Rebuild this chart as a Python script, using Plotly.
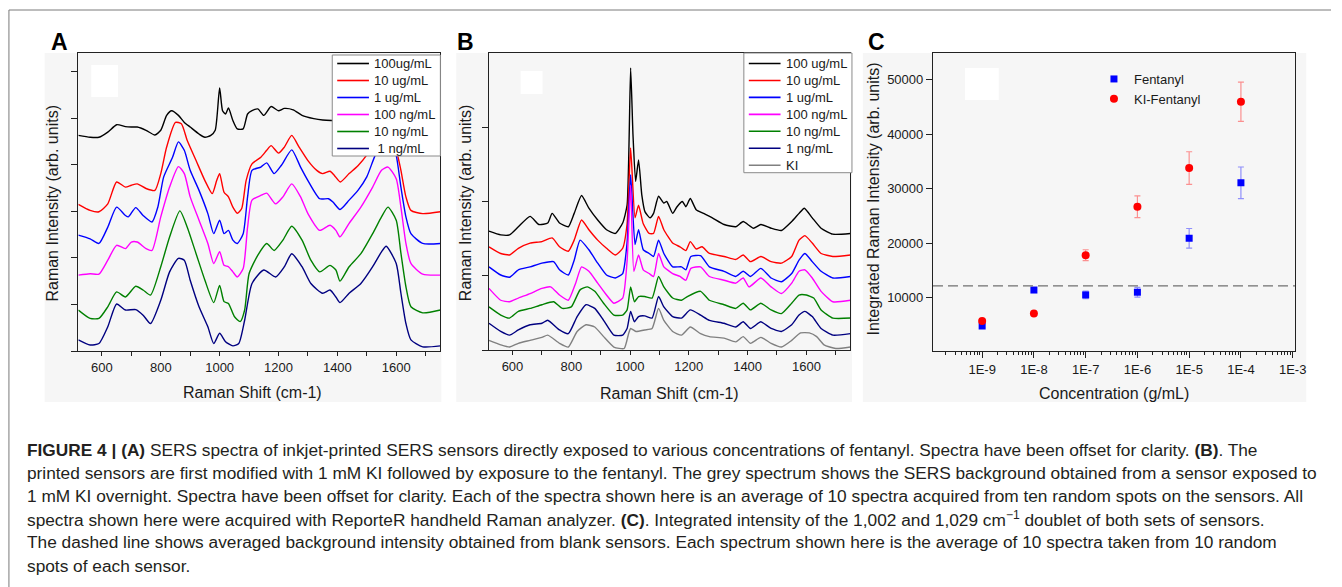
import plotly.graph_objects as go

# ---------------- data ----------------
# Panel A: SERS spectra, direct fentanyl exposure (offset, arb. units)
A_LABELS = ["100ug/mL", "10 ug/mL", "1 ug/mL", "100 ng/mL", "10 ng/mL", "\u00a01 ng/mL"]
A_100UG_X = [520,560,590,620,650,680,700,720,750,780,800,820,837,860,880,900,930,950,970,985,
             1000,1010,1020,1030,1045,1060,1080,1095,1110,1130,1150,1175,1200,1220,1250,1280,1320,1350,1380,1400,
             1450,1500,1550,1590,1630,1680,1750]
A_100UG_Y = [4.63,4.59,4.59,4.70,4.86,4.82,4.81,4.81,4.74,4.64,4.74,5.06,5.16,5.06,4.91,4.81,4.66,4.59,4.63,4.74,
             5.65,5.16,5.09,5.22,4.95,4.77,4.77,5.09,5.16,5.20,5.06,5.25,5.16,5.21,5.18,5.06,4.99,4.96,4.95,4.95,
             4.97,5.0,5.05,5.12,5.0,4.95,4.95]
A_10UG_X = [520,560,590,620,650,680,700,720,750,780,800,820,850,870,890,920,950,975,990,1000,
            1015,1030,1045,1060,1075,1090,1110,1140,1160,1175,1200,1220,1245,1270,1300,1330,1350,1375,1390,1410,
            1440,1470,1499,1530,1560,1585,1605,1616,1633,1650,1690,1750]
A_10UG_Y = [3.15,3.02,2.99,3.16,3.63,3.52,3.56,3.59,3.49,3.45,3.81,4.38,4.91,4.88,4.52,4.09,3.66,3.38,3.66,3.81,
            3.41,3.31,3.09,2.96,3.06,3.66,4.02,4.16,4.31,4.41,4.25,4.38,4.63,4.38,4.09,3.88,3.81,3.86,3.77,3.63,
            3.81,3.98,4.2,4.55,4.8,4.75,4.2,3.88,3.31,3.02,2.95,2.99]
A_1UG_X = [520,560,590,620,650,680,690,715,740,770,790,810,840,860,880,900,930,960,980,1000,
           1015,1030,1045,1060,1080,1095,1110,1140,1160,1185,1210,1245,1275,1300,1340,1370,1385,1409,1440,1470,
           1500,1527,1555,1580,1600,1616,1633,1650,1690,1750]
A_1UG_Y = [2.49,2.41,2.31,2.66,3.09,2.91,2.88,3.08,2.91,2.77,3.09,3.74,4.16,4.49,4.31,3.88,3.45,2.95,2.52,2.81,
           2.52,2.59,2.38,2.31,2.52,3.31,3.88,3.95,4.04,3.81,3.99,4.32,3.95,3.66,3.27,3.27,3.2,3.04,3.24,3.45,
           3.74,4.18,4.5,4.55,4.2,3.52,2.88,2.52,2.31,2.31]
A_100NG_X = [520,560,590,620,650,680,700,720,750,770,800,830,860,880,900,930,960,980,1000,1015,
             1030,1045,1060,1080,1095,1110,1140,1160,1190,1215,1245,1275,1300,1340,1375,1395,1409,1440,1480,1520,
             1550,1572,1600,1616,1633,1650,1690,1750]
A_100NG_Y = [1.63,1.66,1.65,1.95,2.27,2.2,2.34,2.34,2.2,2.16,2.88,3.52,3.96,3.81,3.31,2.81,2.31,1.88,2.13,1.84,
             1.81,1.7,1.59,1.77,2.66,3.24,3.34,3.39,3.16,3.31,3.59,3.31,2.95,2.59,2.7,2.59,2.45,2.74,3.09,3.52,
             3.88,3.95,3.70,3.09,2.31,1.88,1.65,1.63]
A_10NG_X = [520,560,590,620,650,680,715,740,765,800,830,865,890,920,950,980,1000,1015,1030,1050,
            1070,1085,1100,1130,1160,1185,1215,1245,1280,1310,1340,1375,1395,1409,1440,1480,1520,1550,1572,1600,
            1616,1633,1650,1690,1750]
A_10NG_Y = [0.88,0.7,0.7,0.95,1.27,1.16,1.39,1.31,1.2,1.81,2.45,3.01,2.66,2.09,1.52,1.04,1.41,1.06,1.02,0.74,
            0.63,0.88,1.66,2.06,2.31,2.16,2.38,2.68,2.38,1.95,1.7,1.84,1.74,1.5,1.81,2.09,2.52,2.88,3.09,2.81,
            2.10,1.38,0.95,0.82,0.88]
A_1NG_X = [520,560,590,620,650,680,715,740,765,800,830,860,880,900,930,960,980,1000,1020,1045,
           1065,1085,1110,1150,1190,1220,1245,1280,1310,1350,1375,1395,1409,1440,1480,1520,1550,1566,1600,1616,
           1633,1650,1690,1750]
A_1NG_Y = [0.24,0.13,0.16,0.52,1.01,0.88,0.89,0.77,0.59,1.09,1.7,1.99,1.95,1.52,0.95,0.52,0.16,0.38,0.2,0.11,
           0.16,0.66,1.45,1.74,1.59,1.81,2.09,1.81,1.45,1.24,1.31,1.16,1.04,1.24,1.45,1.81,2.13,2.25,1.88,1.24,
           0.59,0.24,0.09,0.11]

# Panel B: KI-modified sensors (offset, arb. units)
B_LABELS = ["100 ug/mL", "10 ug/mL", "1 ug/mL", "100 ng/mL", "10 ng/mL", "1 ng/mL", "KI"]
B_100UG_X = [520,560,590,620,660,690,720,735,760,790,810,835,860,890,920,950,975,990,1002,1010,
             1019,1029,1040,1051,1068,1080,1097,1115,1125,1145,1160,1178,1190,1205,1225,1250,1280,1320,1360,1385,
             1420,1445,1480,1515,1550,1575,1593,1620,1650,1690,1750]
B_100UG_Y = [1.60,1.55,1.55,1.66,1.80,1.69,1.71,1.84,1.71,1.66,1.84,2.08,1.91,1.75,1.62,1.57,1.71,1.95,3.80,2.90,
             2.27,2.56,2.09,1.86,1.78,1.84,2.07,1.98,2.0,1.84,1.93,2.0,1.93,2.04,1.89,1.84,1.78,1.69,1.66,1.73,
             1.64,1.69,1.64,1.61,1.73,1.84,1.91,1.78,1.64,1.56,1.57]
B_10UG_X = [520,560,590,620,660,700,735,760,790,810,835,860,890,920,950,975,990,1002,1017,1029,
            1045,1065,1080,1097,1115,1145,1170,1190,1205,1225,1245,1270,1320,1360,1385,1410,1445,1480,1515,1550,
            1575,1595,1620,1650,1690,1750]
B_10UG_Y = [1.39,1.30,1.28,1.37,1.44,1.46,1.51,1.39,1.33,1.48,1.75,1.62,1.48,1.37,1.28,1.37,1.70,2.72,1.78,1.95,
            1.70,1.57,1.57,1.80,1.62,1.44,1.39,1.34,1.46,1.36,1.39,1.30,1.26,1.22,1.28,1.19,1.26,1.19,1.17,1.26,
            1.48,1.54,1.44,1.30,1.26,1.28]
B_1UG_X = [520,560,590,620,660,700,740,760,790,810,830,860,890,920,950,975,990,1002,1017,1029,
           1045,1065,1080,1097,1115,1145,1175,1190,1207,1240,1270,1320,1360,1385,1410,1445,1480,1515,1550,1575,
           1595,1620,1650,1690,1750]
B_1UG_Y = [1.12,1.01,0.98,1.08,1.12,1.17,1.19,1.08,1.01,1.21,1.48,1.35,1.17,1.01,0.97,1.03,1.45,2.36,1.42,1.62,
           1.35,1.30,1.26,1.48,1.30,1.12,1.12,1.08,1.26,1.27,1.12,1.06,0.99,1.06,0.99,1.10,0.97,0.92,1.03,1.21,
           1.30,1.19,1.06,0.97,0.99]
B_100NG_X = [520,560,590,620,660,700,730,760,790,815,835,860,890,920,945,975,990,1002,1013,1029,
             1045,1065,1080,1097,1115,1145,1170,1190,1207,1240,1270,1320,1360,1385,1405,1445,1480,1515,1550,1575,
             1595,1620,1650,1690,1750]
B_100NG_Y = [0.83,0.67,0.65,0.70,0.76,0.83,0.85,0.74,0.67,0.90,1.12,1.06,0.90,0.74,0.63,0.70,1.20,2.22,1.06,1.28,
             1.08,1.03,0.99,1.30,1.12,1.03,0.99,0.94,1.10,1.12,0.99,0.94,0.90,0.97,0.85,0.97,0.85,0.76,0.90,1.06,
             1.08,0.97,0.79,0.65,0.67]
B_10NG_X = [520,560,590,620,660,700,740,770,800,830,855,880,910,945,975,990,1002,1015,1029,1050,
            1075,1097,1115,1145,1175,1195,1240,1270,1320,1360,1385,1410,1445,1480,1515,1550,1575,1600,1625,1650,
            1690,1750]
B_10NG_Y = [0.58,0.47,0.43,0.52,0.56,0.61,0.65,0.56,0.58,0.81,0.85,0.79,0.63,0.47,0.47,0.54,0.85,0.65,0.72,0.72,
            0.70,0.99,0.85,0.70,0.67,0.72,0.79,0.67,0.61,0.56,0.63,0.54,0.63,0.54,0.49,0.63,0.74,0.74,0.70,0.54,
            0.43,0.43]
B_1NG_X = [520,560,590,620,660,700,720,760,790,820,850,880,910,945,975,990,1002,1015,1029,1050,
           1075,1097,1115,1145,1175,1205,1240,1270,1320,1360,1385,1410,1445,1480,1515,1550,1575,1595,1620,1650,
           1690,1750]
B_1NG_Y = [0.36,0.25,0.20,0.27,0.34,0.36,0.40,0.27,0.22,0.45,0.61,0.56,0.40,0.20,0.20,0.29,0.52,0.38,0.45,0.46,
           0.43,0.72,0.58,0.45,0.43,0.54,0.47,0.40,0.36,0.31,0.38,0.29,0.38,0.29,0.25,0.34,0.47,0.52,0.45,0.29,
           0.20,0.22]
B_KI_X = [520,560,590,620,660,700,720,760,790,820,850,880,910,945,980,995,1002,1020,1050,1075,
          1097,1115,1145,1175,1205,1240,1270,1320,1360,1385,1410,1445,1480,1515,1550,1580,1610,1635,1660,1700,
          1750]
B_KI_Y = [0.13,0.07,0.04,0.09,0.13,0.17,0.20,0.09,0.04,0.25,0.34,0.31,0.18,0.04,0.02,0.22,0.29,0.25,0.27,0.29,
          0.56,0.40,0.25,0.20,0.31,0.22,0.18,0.16,0.11,0.18,0.09,0.17,0.09,0.04,0.13,0.23,0.23,0.18,0.07,0.02,
          0.04]

# Panel C: integrated intensity of the 1002/1029 doublet
C_CONC = [1e-9, 1e-8, 1e-7, 1e-6, 1e-5, 1e-4]
C_FENT = [4800, 11400, 10500, 11000, 20900, 31100]
C_FENT_ERR = [250, 250, 700, 900, 1800, 2900]
C_KI = [5700, 7100, 17800, 26700, 33800, 46000]
C_KI_ERR = [250, 250, 1000, 2000, 3000, 3600]
C_BACKGROUND = 12150
C_TICKVALS = [1e-9, 1e-8, 1e-7, 1e-6, 1e-5, 1e-4, 1e-3]
C_TICKTEXT = ["1E-9", "1E-8", "1E-7", "1E-6", "1E-5", "1E-4", "1E-3"]
C_YTICKS = [10000, 20000, 30000, 40000, 50000]

SPEC_COLORS = ["#000000", "#ff0000", "#0000ff", "#ff00ff", "#008000", "#000080", "#808080"]

# ---------------- figure ----------------
W, H = 1342, 587
FONT = "Liberation Sans, Arial, sans-serif"
INK = "#1a1a1a"


def fx(p):
    return p / W


def fy(p):
    return 1 - p / H


fig = go.Figure()

a_series = [(A_100UG_X, A_100UG_Y), (A_10UG_X, A_10UG_Y), (A_1UG_X, A_1UG_Y),
            (A_100NG_X, A_100NG_Y), (A_10NG_X, A_10NG_Y), (A_1NG_X, A_1NG_Y)]
for i, (xs, ys) in enumerate(a_series):
    fig.add_trace(go.Scatter(x=xs, y=ys, mode="lines", name=A_LABELS[i], showlegend=False,
                             line=dict(color=SPEC_COLORS[i], width=1.4, shape="spline", smoothing=0.6),
                             xaxis="x", yaxis="y"))

b_series = [(B_100UG_X, B_100UG_Y), (B_10UG_X, B_10UG_Y), (B_1UG_X, B_1UG_Y),
            (B_100NG_X, B_100NG_Y), (B_10NG_X, B_10NG_Y), (B_1NG_X, B_1NG_Y), (B_KI_X, B_KI_Y)]
for i, (xs, ys) in enumerate(b_series):
    fig.add_trace(go.Scatter(x=xs, y=ys, mode="lines", name=B_LABELS[i], showlegend=False,
                             line=dict(color=SPEC_COLORS[i], width=1.4, shape="spline", smoothing=0.5),
                             xaxis="x2", yaxis="y2"))

fig.add_trace(go.Scatter(x=C_CONC, y=C_FENT, mode="markers", name="Fentanyl",
                         marker=dict(symbol="square", size=7, color="#0000ff"),
                         error_y=dict(type="data", array=C_FENT_ERR, color="rgba(60,60,255,0.55)",
                                      thickness=1.2, width=3),
                         xaxis="x3", yaxis="y3", legend="legend"))
fig.add_trace(go.Scatter(x=C_CONC, y=C_KI, mode="markers", name="KI-Fentanyl",
                         marker=dict(symbol="circle", size=8, color="#ff0000"),
                         error_y=dict(type="data", array=C_KI_ERR, color="rgba(255,60,60,0.55)",
                                      thickness=1.2, width=3),
                         xaxis="x3", yaxis="y3", legend="legend"))

axis_common = dict(showline=True, linecolor="#222", linewidth=1.2, mirror=True, ticks="outside",
                   tickcolor="#222", tickwidth=1, showgrid=False, zeroline=False,
                   tickfont=dict(family=FONT, size=13, color=INK))

minor_c = [m * 10 ** e for e in range(-10, -2) for m in range(2, 10)]

fig.update_layout(
    width=W, height=H, autosize=False,
    margin=dict(l=0, r=0, t=0, b=0),
    paper_bgcolor="white", plot_bgcolor="#f6f6f6",
    font=dict(family=FONT, size=13, color=INK),
    xaxis=dict(axis_common, domain=[fx(79), fx(444)], range=[520, 1750], tick0=0, dtick=200, ticklen=4,
               minor=dict(dtick=100, ticks="outside", ticklen=4, tickcolor="#222", showgrid=False),
               anchor="y"),
    yaxis=dict(axis_common, domain=[fy(351), fy(53)], range=[0, 6.4], tickvals=[0, 1, 2, 3, 4, 5, 6],
               showticklabels=False, ticklen=6, anchor="x"),
    xaxis2=dict(axis_common, domain=[fx(493), fx(857.5)], range=[520, 1750], tick0=0, dtick=200, ticklen=4,
                minor=dict(dtick=100, ticks="outside", ticklen=4, tickcolor="#222", showgrid=False),
                anchor="y2"),
    yaxis2=dict(axis_common, domain=[fy(350), fy(53)], range=[0, 4.0], tickvals=[0, 1, 2, 3],
                showticklabels=False, ticklen=6, anchor="x2"),
    xaxis3=dict(axis_common, type="log", domain=[fx(940.7), fx(1305.7)], range=[-9.95, -2.955],
                tickvals=C_TICKVALS, ticktext=C_TICKTEXT, ticklen=6,
                minor=dict(tickvals=minor_c, ticks="outside", ticklen=3, tickcolor="#222", showgrid=False),
                anchor="y3"),
    yaxis3=dict(axis_common, domain=[fy(351), fy(52.7)], range=[200, 55000], tickvals=C_YTICKS,
                tickformat="d", ticklen=6, anchor="x3"),
    legend=dict(x=fx(1103), y=fy(64), xanchor="left", yanchor="top", bgcolor="rgba(0,0,0,0)",
                borderwidth=0, font=dict(family=FONT, size=13, color=INK),
                itemwidth=30, tracegroupgap=0, traceorder="normal"),
    showlegend=True,
)

shapes = []
# page frame lines
shapes.append(dict(type="line", xref="paper", yref="paper", x0=fx(9), x1=1, y0=fy(10), y1=fy(10),
                   line=dict(color="#7a7a7a", width=1)))
shapes.append(dict(type="line", xref="paper", yref="paper", x0=fx(9), x1=fx(9), y0=fy(10), y1=0,
                   line=dict(color="#7a7a7a", width=1)))
# light grey backdrops behind panels
for (x0, x1) in [(45, 445), (460, 859), (870, 1317)]:
    shapes.append(dict(type="rect", xref="paper", yref="paper", x0=fx(x0), x1=fx(x1), y0=fy(402), y1=fy(53),
                       fillcolor="#f6f6f6", line=dict(width=0), layer="below"))
# white patches inside plot areas
for (x0, y0, x1, y1) in [(92, 65, 119, 97), (525, 71, 547, 94), (973, 68, 1007, 100)]:
    shapes.append(dict(type="rect", xref="paper", yref="paper", x0=fx(x0), x1=fx(x1), y0=fy(y1), y1=fy(y0),
                       fillcolor="white", line=dict(width=0), layer="above"))
# background level (dashed)
shapes.append(dict(type="line", xref="x3 domain", yref="y3", x0=0, x1=1, y0=C_BACKGROUND, y1=C_BACKGROUND,
                   line=dict(color="#707070", width=1.3, dash="10px,5px")))

ann = []

# legends of the spectra panels (boxed keys drawn above the curves)
def add_key(labels, box, row0, rowgap, line_x0, line_x1, text_x):
    bx0, by0, bx1, by1 = box
    shapes.append(dict(type="rect", xref="paper", yref="paper", x0=fx(bx0), x1=fx(bx1), y0=fy(by1), y1=fy(by0),
                       fillcolor="white", line=dict(color="#8a8a8a", width=1), layer="above"))
    for k, lab in enumerate(labels):
        yy = row0 + rowgap * k
        shapes.append(dict(type="line", xref="paper", yref="paper", x0=fx(line_x0), x1=fx(line_x1),
                           y0=fy(yy), y1=fy(yy), line=dict(color=SPEC_COLORS[k], width=1.6), layer="above"))
        ann.append(dict(text=lab, x=fx(text_x), y=fy(yy), xref="paper", yref="paper", showarrow=False,
                        xanchor="left", yanchor="middle", font=dict(family=FONT, size=13, color=INK)))


add_key(A_LABELS, (335, 55, 444, 156), 63.5, 17.0, 340, 372, 375)
add_key(B_LABELS, (750, 53, 859, 172.7), 63.5, 16.95, 755, 787, 790)

for letter, cx in [("A", 60), ("B", 469), ("C", 883.5)]:
    ann.append(dict(text="<b>%s</b>" % letter, x=fx(cx), y=fy(42), xref="paper", yref="paper",
                    showarrow=False, xanchor="center", yanchor="middle",
                    font=dict(family=FONT, size=23, color="#000")))
axis_titles = [
    ("Raman Shift (cm-1)", 255, 392.5, 0),
    ("Raman Intensity (arb. units)", 53, 203, -90),
    ("Raman Shift (cm-1)", 675, 393, 0),
    ("Raman Intensity (arb. units)", 470, 203, -90),
    ("Concentration (g/mL)", 1123, 393, 0),
    ("Integrated Raman Intensity (arb. units)", 881.7, 199, -90),
]
for t, cx, cy, ang in axis_titles:
    ann.append(dict(text=t, x=fx(cx), y=fy(cy), xref="paper", yref="paper", showarrow=False,
                    xanchor="center", yanchor="middle", textangle=ang,
                    font=dict(family=FONT, size=16, color=INK)))

CAPTION = [
    "<b>FIGURE 4 | (A)</b> SERS spectra of inkjet-printed SERS sensors directly exposed to various concentrations of fentanyl. Spectra have been offset for clarity. <b>(B)</b>. The",
    "printed sensors are first modified with 1 mM KI followed by exposure to the fentanyl. The grey spectrum shows the SERS background obtained from a sensor exposed to",
    "1 mM KI overnight. Spectra have been offset for clarity. Each of the spectra shown here is an average of 10 spectra acquired from ten random spots on the sensors. All",
    "spectra shown here were acquired with ReporteR handheld Raman analyzer. <b>(C)</b>. Integrated intensity of the 1,002 and 1,029 cm<sup>\u22121</sup> doublet of both sets of sensors.",
    "The dashed line shows averaged background intensity obtained from blank sensors. Each spectrum shown here is the average of 10 spectra taken from 10 random",
    "spots of each sensor.",
]
for k, line in enumerate(CAPTION):
    ann.append(dict(text=line, x=fx(25), y=fy(450 + 23.1 * k), xref="paper", yref="paper",
                    showarrow=False, xanchor="left", yanchor="middle",
                    font=dict(family=FONT, size=17.3, color="#231f20")))

fig.update_layout(shapes=shapes, annotations=ann)

fig.write_html("out.html", config={"displayModeBar": False},
               post_script="document.body.style.margin='0px';")
